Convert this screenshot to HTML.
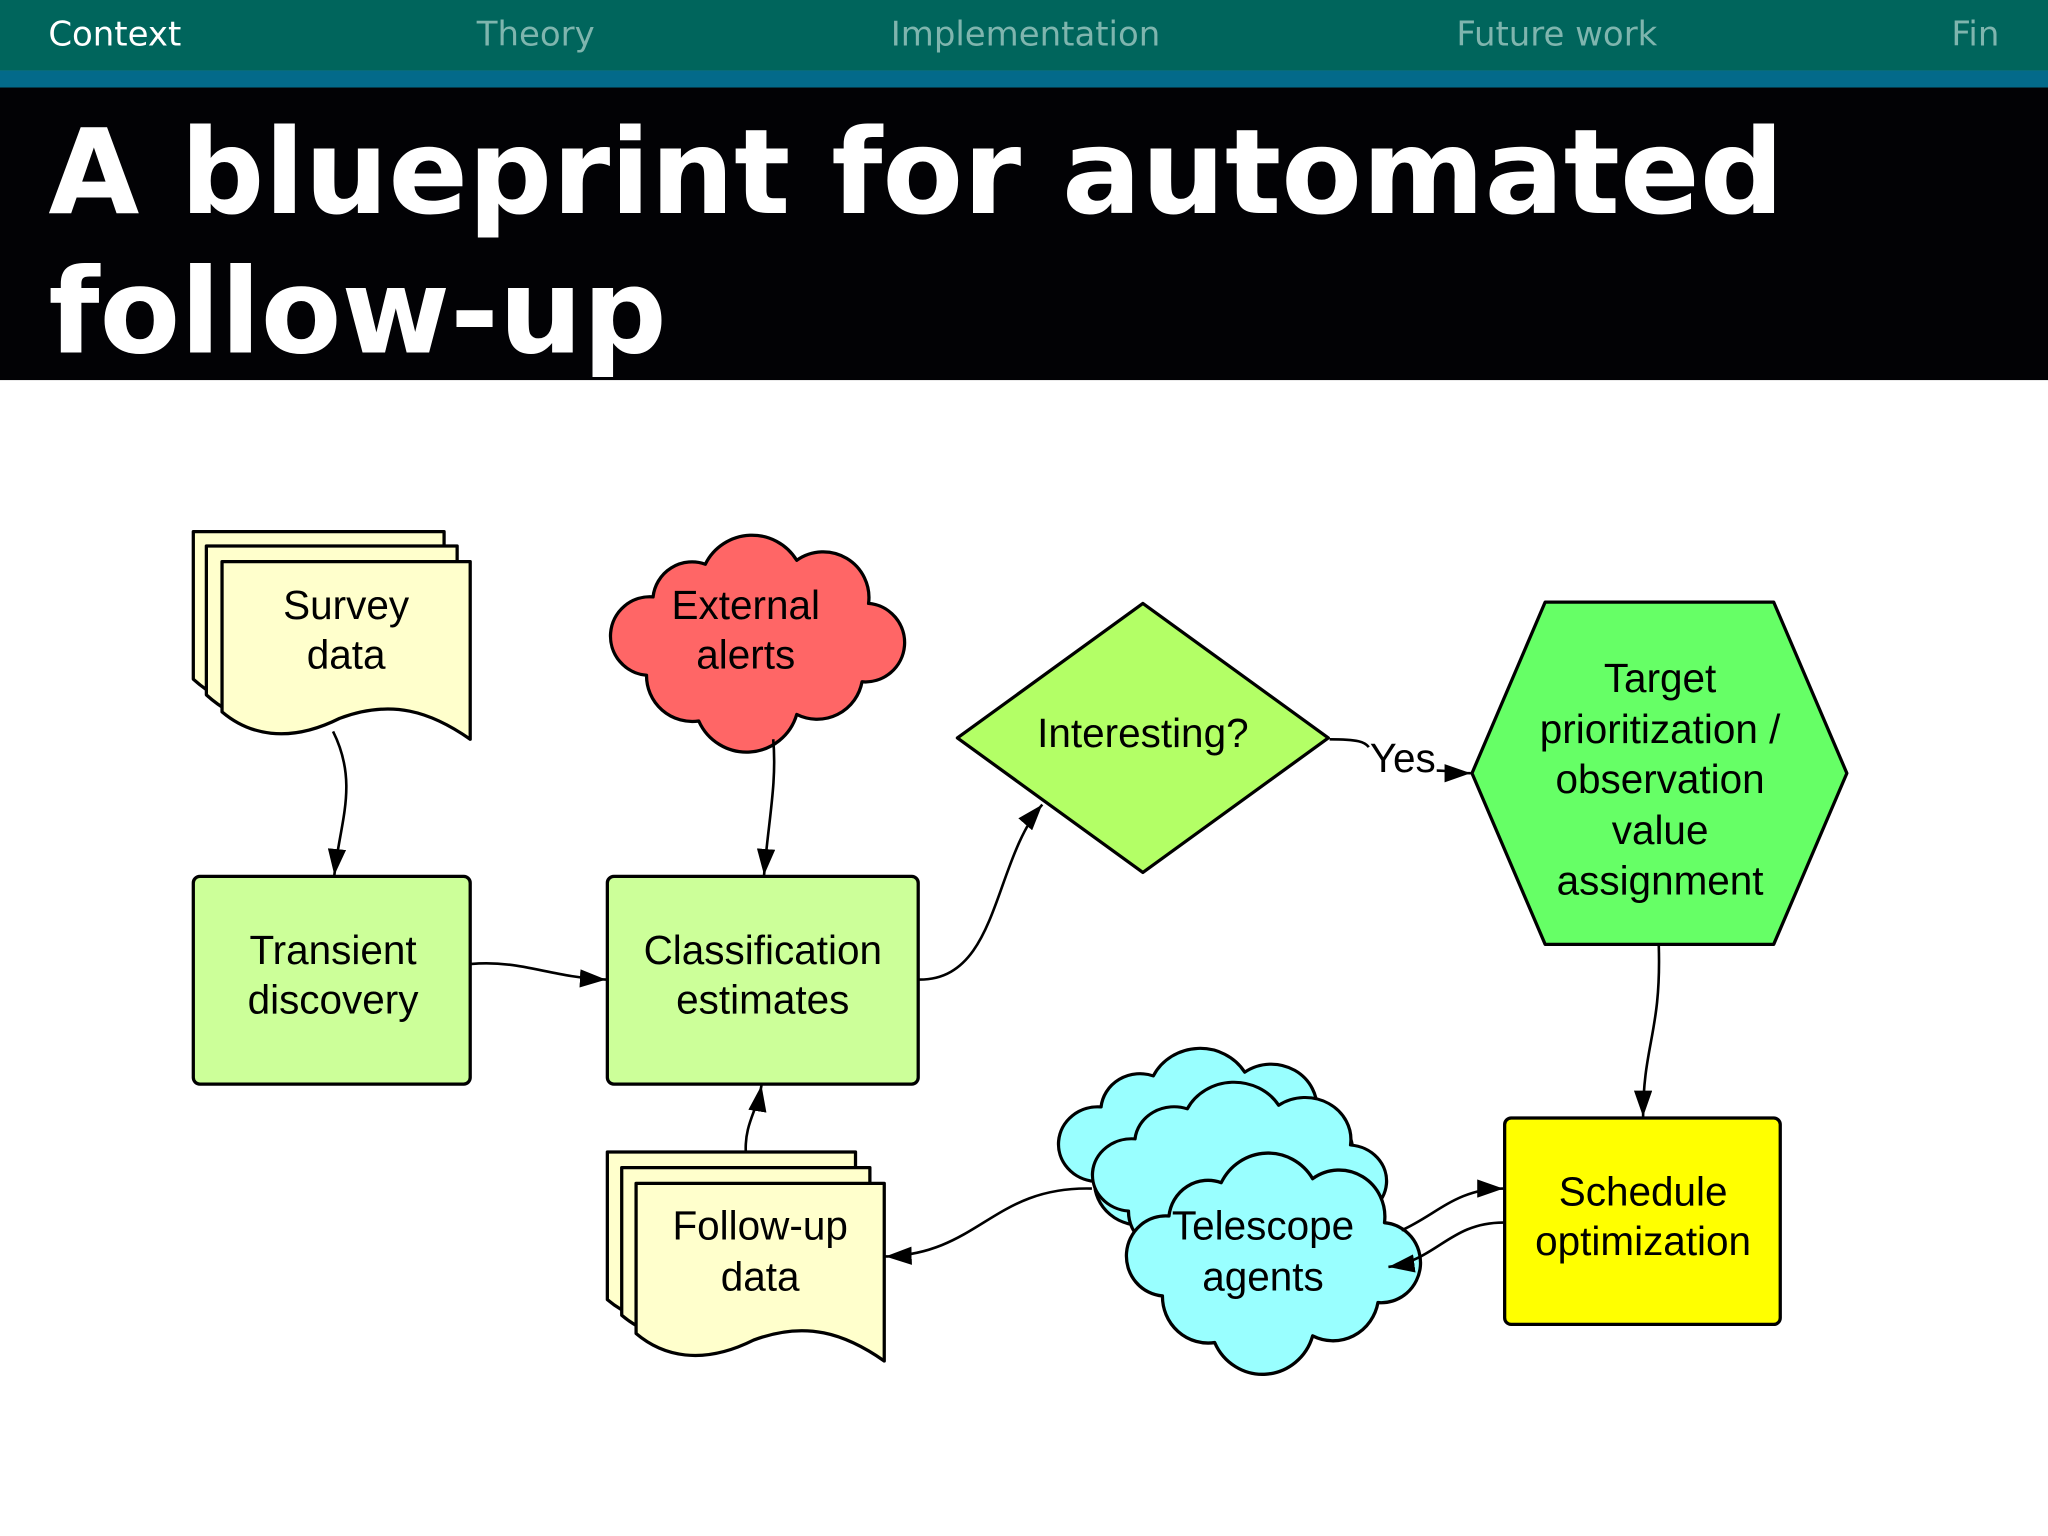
<!DOCTYPE html>
<html><head><meta charset="utf-8"><style>html,body{margin:0;padding:0;background:#fff}svg{display:block}</style></head><body>
<svg width="2048" height="1536" viewBox="0 0 1568 1176" xmlns="http://www.w3.org/2000/svg">
<defs>
<marker id="a" viewBox="0 0 10 10" refX="10" refY="5" markerWidth="9" markerHeight="9" markerUnits="userSpaceOnUse" orient="auto"><path d="M0,0 L10,5 L0,10 z" fill="#000"/></marker>
<marker id="b" viewBox="0 0 10 10" refX="10" refY="5" markerWidth="20" markerHeight="14" markerUnits="userSpaceOnUse" orient="auto" preserveAspectRatio="none"><path d="M0,0 L10,5 L0,10 z" fill="#000"/></marker>
<path id="cl" d="M35,50 A30,30 0 0 1 75,25 A40,40 0 0 1 145,22 A35,35 0 0 1 200,55 A30,30 0 0 1 195,115 A35,35 0 0 1 145,140 A40,40 0 0 1 70,145 A35,35 0 0 1 30,110 A30,30 0 0 1 35,50 Z"/>
</defs>
<rect x="0" y="0" width="1568" height="54" fill="#00655c"/>
<rect x="0" y="54" width="1568" height="13" fill="#036a8a"/>
<rect x="0" y="67" width="1568" height="224" fill="#020205"/>
<g font-family="DejaVu Sans, sans-serif" font-size="26">
<text x="37" y="35" fill="#fff">Context</text>
<text x="365" y="35" fill="#7fb5ae">Theory</text>
<text x="682" y="35" fill="#7fb5ae">Implementation</text>
<text x="1115" y="35" fill="#7fb5ae">Future work</text>
<text x="1494" y="35" fill="#7fb5ae">Fin</text>
</g>
<g font-family="DejaVu Sans, sans-serif" font-weight="bold" font-size="90" fill="#fff">
<text x="37" y="163">A blueprint for automated</text>
<text x="37" y="270">follow-up</text>
</g>
<g stroke="#000" stroke-width="2.5" stroke-linejoin="round">
<!-- survey data -->
<path d="M148,407 H340 V540 C310,525 280,520 240,535 C200,550 170,540 148,520 Z" fill="#ffffcc"/>
<path d="M158,418 H350 V552 C320,535 290,530 250,546 C210,562 180,552 158,532 Z" fill="#ffffcc"/>
<path d="M170,430 H360 V566 C330,545 300,535 260,550 C220,570 190,562 170,545 Z" fill="#ffffcc"/>
<!-- follow-up data -->
<path d="M465,882 H655 V1016 C625,995 595,985 555,1000 C515,1020 485,1012 465,995 Z" fill="#ffffcc"/>
<path d="M476,894 H666 V1028 C636,1007 606,997 566,1012 C526,1032 496,1024 476,1007 Z" fill="#ffffcc"/>
<path d="M487,906 H677 V1042 C647,1021 617,1011 577,1026 C537,1046 507,1038 487,1021 Z" fill="#ffffcc"/>
<!-- clouds -->
<use href="#cl" transform="translate(465,407)" fill="#ff6666"/>
<use href="#cl" transform="translate(808,800) scale(1.0,0.95)" fill="#99ffff"/>
<use href="#cl" transform="translate(834,826) scale(1.0,0.92)" fill="#99ffff"/>
<use href="#cl" transform="translate(860,880) scale(1.0,1.02)" fill="#99ffff"/>
<!-- boxes -->
<rect x="148" y="671" width="212" height="159" rx="5" fill="#ccff99"/>
<rect x="465" y="671" width="238" height="159" rx="5" fill="#ccff99"/>
<path d="M733,565 L875,462 L1017,565 L875,668 Z" fill="#b3ff66"/>
<path d="M1127,592 L1183,461 L1358,461 L1414,592 L1358,723 L1183,723 Z" fill="#66ff66"/>
<rect x="1152" y="856" width="211" height="158" rx="5" fill="#ffff00"/>
</g>
<g fill="none" stroke="#000" stroke-width="2">
<path d="M255,560 C275,600 260,630 256,670" marker-end="url(#b)"/>
<path d="M592,566 C595,600 588,630 585,670" marker-end="url(#b)"/>
<path d="M361,738 C400,735 420,748 464,750" marker-end="url(#b)"/>
<path d="M704,750 C765,750 760,660 798,616" marker-end="url(#b)"/>
<path d="M1018,566 C1040,566 1045,568 1048,572"/>
<path d="M1100,590 C1110,590 1115,592 1126,592" marker-end="url(#b)"/>
<path d="M1270,724 C1272,790 1258,800 1258,855" marker-end="url(#b)"/>
<path d="M571,882 C570,860 580,850 583,831" marker-end="url(#b)"/>
<path d="M836,910 C760,908 750,960 678,962" marker-end="url(#b)"/>
<path d="M1073,942 C1100,930 1115,910 1151,910" marker-end="url(#b)"/>
<path d="M1151,936 C1110,936 1100,965 1063,970" marker-end="url(#b)"/>
</g>
<g font-family="Liberation Sans, sans-serif" font-size="31" text-anchor="middle" fill="#000">
<text x="265" y="474">Survey</text><text x="265" y="512">data</text>
<text x="571" y="474">External</text><text x="571" y="512">alerts</text>
<text x="255" y="738">Transient</text><text x="255" y="776">discovery</text>
<text x="584" y="738">Classification</text><text x="584" y="776">estimates</text>
<text x="875" y="572">Interesting?</text>
<text x="1074" y="591">Yes</text>
<text x="1271" y="530">Target</text><text x="1271" y="569">prioritization /</text><text x="1271" y="607">observation</text><text x="1271" y="646">value</text><text x="1271" y="685">assignment</text>
<text x="582" y="949">Follow-up</text><text x="582" y="988">data</text>
<text x="967" y="949">Telescope</text><text x="967" y="988">agents</text>
<text x="1258" y="923">Schedule</text><text x="1258" y="961">optimization</text>
</g>
</svg>
</body></html>
